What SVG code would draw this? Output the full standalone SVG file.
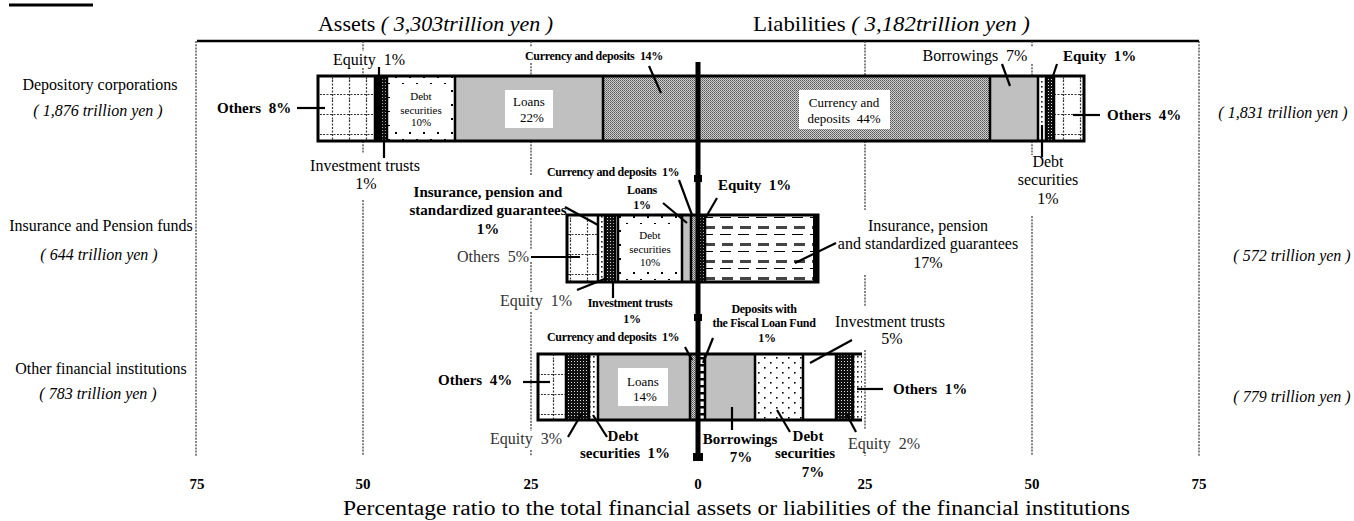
<svg xmlns="http://www.w3.org/2000/svg" width="1354" height="521" viewBox="0 0 1354 521">
<defs>
<style>
.t{font-family:"Liberation Serif","Times New Roman",serif;fill:#000}
.n{font-size:16px}
.b{font-size:15px;font-weight:bold}
.s{font-size:12px;font-weight:bold;letter-spacing:-0.3px}
.sm{font-size:11px}
.in{font-size:13px}
.i{font-style:italic}
.m{text-anchor:middle}
.g{fill:#333}
.grid{stroke:#333;stroke-width:1.2;stroke-dasharray:2 1.2;fill:none}
.sep{stroke:#000;stroke-width:2.5;fill:none}
.frame{stroke:#000;stroke-width:3;fill:none}
.lead{stroke:#000;stroke-width:2.2;fill:none}
.gray{fill:#c0c0c0}
</style>
<pattern id="pGrid" patternUnits="userSpaceOnUse" width="17" height="20">
<rect width="17" height="20" fill="#fff"/>
<path d="M9.5,0V20M0,14.5H17" stroke="#333" stroke-width="1.2" stroke-dasharray="2 1.5"/>
</pattern>
<pattern id="pDots" patternUnits="userSpaceOnUse" width="14" height="14">
<rect width="14" height="14" fill="#fff"/>
<rect x="3" y="6" width="2" height="2" fill="#000"/>
<rect x="10" y="13" width="2" height="1" fill="#000"/>
</pattern>
<pattern id="pDots2" patternUnits="userSpaceOnUse" width="12" height="10">
<rect width="12" height="10" fill="#fff"/>
<rect x="2" y="2" width="1.6" height="1.6" fill="#000"/>
<rect x="8" y="7" width="1.6" height="1.6" fill="#000"/>
</pattern>
<pattern id="pVdots" patternUnits="userSpaceOnUse" width="4" height="5">
<rect width="4" height="5" fill="#fff"/>
<rect x="1" y="1" width="1.6" height="1.6" fill="#222"/>
</pattern>
<pattern id="pChk" patternUnits="userSpaceOnUse" width="2" height="2">
<rect width="2" height="2" fill="#d0d0d0"/>
<rect width="1" height="1" fill="#555"/>
<rect x="1" y="1" width="1" height="1" fill="#777"/>
</pattern>
<pattern id="pDark" patternUnits="userSpaceOnUse" width="3" height="3">
<rect width="3" height="3" fill="#111"/>
<rect x="1" y="1" width="1" height="1" fill="#ddd"/>
</pattern>
<pattern id="pDash" patternUnits="userSpaceOnUse" width="18" height="17">
<rect width="18" height="17" fill="#fff"/>
<rect x="2" y="5" width="11" height="3" fill="#444"/>
<path d="M0,13.5H11" stroke="#000" stroke-width="1"/>
</pattern>
<pattern id="pLadder" patternUnits="userSpaceOnUse" width="8" height="7">
<rect width="8" height="7" fill="#fff"/>
<rect width="8" height="2.5" fill="#000"/>
</pattern>
</defs>
<rect width="1354" height="521" fill="#fff"/>

<g id="frame-and-axes">
<rect x="9" y="3.5" width="84" height="3" fill="#000"/>
<text class="t" x="318" y="31" font-size="21" textLength="235" lengthAdjust="spacingAndGlyphs">Assets <tspan class="i">( 3,303trillion yen )</tspan></text>
<text class="t" x="753" y="31" font-size="21" textLength="277" lengthAdjust="spacingAndGlyphs">Liabilities <tspan class="i">( 3,182trillion yen )</tspan></text>
<path d="M197,41H1199" stroke="#000" stroke-width="2.5"/>
<path class="grid" d="M196,41V456 M1199,41V456
M363,41V51 M363,68V76 M363,141V153 M363,200V456
M531,41V47 M531,63V76 M531,141V175 M531,218V250 M531,262V292 M531,312V431 M531,450V456
M865,41V76 M865,141V210 M865,275V307 M865,350V430 M865,452V456
M1032,41V47 M1032,64V76 M1032,141V155 M1032,216V456"/>
<g class="t b m" font-size="14">
<text x="197" y="489">75</text>
<text x="363" y="489">50</text>
<text x="531" y="489">25</text>
<text x="698" y="489">0</text>
<text x="865" y="489">25</text>
<text x="1032" y="489">50</text>
<text x="1199" y="489">75</text>
</g>
<text class="t" x="343" y="515" font-size="20" textLength="787" lengthAdjust="spacingAndGlyphs">Percentage ratio to the total financial assets or liabilities of the financial institutions</text>
</g>

<g id="row-depository">
<text class="t n m" x="100" y="90">Depository corporations</text>
<text class="t n m i" x="98" y="116">( 1,876 trillion yen )</text>
<text class="t n m i" x="1283" y="118">( 1,831 trillion yen )</text>
<rect x="318" y="76" width="57" height="65" fill="url(#pGrid)"/>
<rect x="375" y="76" width="6" height="65" fill="#000"/>
<rect x="381" y="76" width="6" height="65" fill="url(#pDark)"/>
<rect x="387" y="76" width="68" height="65" fill="url(#pDots)"/>
<rect x="455" y="76" width="148" height="65" class="gray"/>
<rect x="603" y="76" width="95" height="65" fill="url(#pChk)"/>
<rect x="698" y="76" width="292" height="65" fill="url(#pChk)"/>
<rect x="990" y="76" width="48" height="65" class="gray"/>
<rect x="1038" y="76" width="8" height="65" fill="url(#pVdots)"/>
<rect x="1046" y="76" width="8" height="65" fill="url(#pDark)"/>
<rect x="1054" y="76" width="30" height="65" fill="url(#pGrid)"/>
<path class="sep" d="M375,76V141M381,76V141M387,76V141M455,76V141M603,76V141M990,76V141M1038,76V141M1046,76V141M1054,76V141"/>
<rect class="frame" x="318" y="76" width="766" height="65"/>
<rect x="392" y="87" width="58" height="44" fill="#fff"/>
<text class="t sm m" x="421" y="100">Debt</text>
<text class="t sm m" x="421" y="114">securities</text>
<text class="t sm m" x="421" y="126">10%</text>
<rect x="505" y="90" width="48" height="38" fill="#fff"/>
<text class="t in m" x="529" y="106">Loans</text>
<text class="t in m" x="532" y="122">22%</text>
<rect x="799" y="90" width="91" height="39" fill="#fff"/>
<text class="t in m" x="844" y="107">Currency and</text>
<text class="t in m" x="844" y="123">deposits&#160; 44%</text>
<text class="t n" x="333" y="65">Equity&#160; 1%</text>
<text class="t b" x="217" y="113">Others&#160; 8%</text>
<text class="t n m" x="365" y="171">Investment trusts</text>
<text class="t n m" x="366" y="189">1%</text>
<text class="t s" x="525" y="60">Currency and deposits&#160; 14%</text>
<text class="t n m" x="975" y="61">Borrowings&#160; 7%</text>
<text class="t b" x="1063" y="61">Equity&#160; 1%</text>
<text class="t b" x="1107" y="120">Others&#160; 4%</text>
<text class="t n m" x="1048" y="167">Debt</text>
<text class="t n m" x="1048" y="185">securities</text>
<text class="t n m" x="1048" y="204">1%</text>
</g>

<g id="row-insurance">
<text class="t n m" x="101" y="231">Insurance and Pension funds</text>
<text class="t n m i" x="99" y="260">( 644 trillion yen )</text>
<text class="t n m i" x="1292" y="261">( 572 trillion yen )</text>
<rect x="567" y="215" width="31" height="67" fill="url(#pGrid)"/>
<rect x="598" y="215" width="7" height="67" fill="url(#pVdots)"/>
<rect x="605" y="215" width="10" height="67" fill="url(#pDark)"/>
<rect x="615" y="215" width="3" height="67" fill="#fff"/>
<rect x="618" y="215" width="64" height="67" fill="url(#pDots)"/>
<rect x="682" y="215" width="9" height="67" class="gray"/>
<rect x="691" y="215" width="7" height="67" fill="url(#pChk)"/>
<rect x="698" y="215" width="7" height="67" fill="url(#pDark)"/>
<rect x="705" y="215" width="113" height="67" fill="url(#pDash)"/>
<path class="sep" d="M598,215V282M605,215V282M615,215V282M618,215V282M682,215V282M691,215V282M705,215V282"/>
<rect class="frame" x="567" y="215" width="251" height="67"/>
<path d="M815,215V282" stroke="#000" stroke-width="4"/>
<rect x="623" y="225" width="55" height="47" fill="#fff"/>
<text class="t sm m" x="650" y="239" fill="#444">Debt</text>
<text class="t sm m" x="650" y="253" fill="#444">securities</text>
<text class="t sm m" x="650" y="266" fill="#444">10%</text>
<text class="t s" x="547" y="176">Currency and deposits&#160; 1%</text>
<text class="t s m" x="642" y="194">Loans</text>
<text class="t s m" x="642" y="209">1%</text>
<text class="t b" x="718" y="190">Equity&#160; 1%</text>
<text class="t b m" x="488" y="197">Insurance, pension and</text>
<text class="t b m" x="488" y="215">standardized guarantees</text>
<text class="t b m" x="488" y="234">1%</text>
<text class="t n g" x="457" y="262">Others&#160; 5%</text>
<text class="t n g" x="500" y="306">Equity&#160; 1%</text>
<text class="t s m" x="630" y="307">Investment trusts</text>
<text class="t s m" x="632" y="323">1%</text>
<text class="t n m" x="928" y="231">Insurance, pension</text>
<text class="t n m" x="928" y="249">and standardized guarantees</text>
<text class="t n m" x="928" y="268">17%</text>
</g>

<g id="row-other">
<text class="t n m" x="101" y="374">Other financial institutions</text>
<text class="t n m i" x="98" y="399">( 783 trillion yen )</text>
<text class="t n m i" x="1292" y="402">( 779 trillion yen )</text>
<rect x="538" y="354" width="28" height="66" fill="url(#pGrid)"/>
<rect x="566" y="354" width="23" height="66" fill="url(#pDark)"/>
<rect x="589" y="354" width="9" height="66" fill="url(#pVdots)"/>
<rect x="598" y="354" width="92" height="66" class="gray"/>
<rect x="690" y="354" width="8" height="66" fill="url(#pChk)"/>
<rect x="698" y="354" width="7" height="66" fill="url(#pLadder)"/>
<rect x="705" y="354" width="50" height="66" class="gray"/>
<rect x="755" y="354" width="48" height="66" fill="url(#pDots2)"/>
<rect x="803" y="354" width="33" height="66" fill="#fff"/>
<rect x="836" y="354" width="17" height="66" fill="url(#pDark)"/>
<rect x="853" y="354" width="9" height="66" fill="url(#pVdots)"/>
<path class="sep" d="M566,354V420M589,354V420M598,354V420M690,354V420M705,354V420M755,354V420M803,354V420M836,354V420M853,354V420"/>
<path class="frame" d="M862,354H538V420H862"/>
<rect x="618" y="368" width="50" height="38" fill="#fff"/>
<text class="t in m" x="643" y="386">Loans</text>
<text class="t in m" x="645" y="401">14%</text>
<text class="t s" x="547" y="341">Currency and deposits&#160; 1%</text>
<text class="t s m" x="764" y="313">Deposits with</text>
<text class="t s m" x="764" y="327">the Fiscal Loan Fund</text>
<text class="t s m" x="767" y="342">1%</text>
<text class="t n m" x="890" y="327">Investment trusts</text>
<text class="t n m" x="892" y="344">5%</text>
<text class="t b" x="893" y="394">Others&#160; 1%</text>
<text class="t n g" x="848" y="449">Equity&#160; 2%</text>
<text class="t b m" x="808" y="441">Debt</text>
<text class="t b m" x="805" y="458">securities</text>
<text class="t b m" x="813" y="477">7%</text>
<text class="t b m" x="740" y="444">Borrowings</text>
<text class="t b m" x="741" y="462">7%</text>
<text class="t b m" x="623" y="441">Debt</text>
<text class="t b m" x="625" y="458">securities&#160; 1%</text>
<text class="t n g" x="490" y="444">Equity&#160; 3%</text>
<text class="t b" x="438" y="385">Others&#160; 4%</text>
</g>

<g id="zero-axis">
<rect x="695.5" y="62" width="5" height="398" fill="#000"/>
<rect x="694" y="175" width="8" height="7" fill="#000"/>
<rect x="694" y="314" width="8" height="7" fill="#000"/>
<rect x="693" y="453" width="10" height="8" fill="#000"/>
</g>

<g id="connectors" class="lead">
<path d="M379,67V80"/>
<path d="M297,108H325"/>
<path d="M384,141V158"/>
<path d="M649,66L661,93"/>
<path d="M1002,64L1010,86"/>
<path d="M1057,64L1052,79"/>
<path d="M1073,115H1100"/>
<path d="M1042,125V157"/>
<path d="M679,180L692,215"/>
<path d="M663,203L687,223"/>
<path d="M717,198L706,217"/>
<path d="M565,207L598,225"/>
<path d="M531,257H580"/>
<path d="M577,290L607,278"/>
<path d="M613,281V298"/>
<path d="M795,263L836,243"/>
<path d="M685,347L692,360"/>
<path d="M713,338L703,363"/>
<path d="M852,340L810,363"/>
<path d="M857,389H883"/>
<path d="M856,432L847,415"/>
<path d="M790,432L777,410"/>
<path d="M732,407V430"/>
<path d="M607,437L593,415"/>
<path d="M568,437L582,413"/>
<path d="M523,382H550"/>
</g>
</svg>
